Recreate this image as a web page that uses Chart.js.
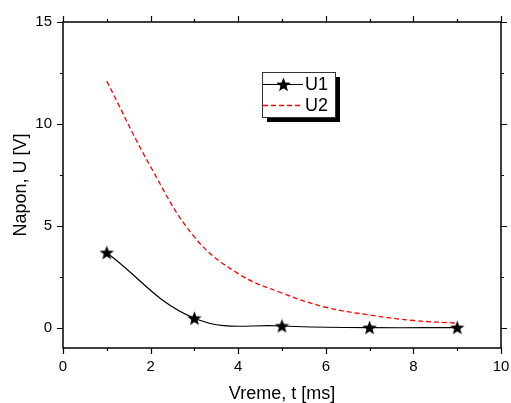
<!DOCTYPE html>
<html>
<head>
<meta charset="utf-8">
<script src="https://cdn.jsdelivr.net/npm/chart.js@4/dist/chart.umd.min.js"></script>
<style>
  html, body { margin: 0; padding: 0; background: #fff; }
  #wrap { width: 511px; height: 403px; }
</style>
</head>
<body>
<div id="wrap"><canvas id="c" width="511" height="403"></canvas></div>
<script>
// Measured samples: time [ms] and voltage [V]
const u1Time = [1, 3, 5, 7, 9];
const u1Values = [3.68, 0.46, 0.08, 0.0, 0.0];
const u2Time = [1, 2, 3, 4, 5, 6, 7, 8, 9];
const u2Values = [12.1, 7.9, 4.45, 2.65, 1.7, 1.0, 0.62, 0.35, 0.22];
const xTickValues = [0, 2, 4, 6, 8, 10];
const yTickValues = [0, 5, 10, 15];
const seriesNames = ['U1', 'U2'];

const FONT = 'Arial, "Liberation Sans", sans-serif';

// filled five-point star used as the U1 marker
function makeStar(size) {
  const c = document.createElement('canvas');
  c.width = size; c.height = size;
  const g = c.getContext('2d');
  const cx = size / 2, cy = size / 2 + 0.6;
  const ro = size / 2, ri = ro * 0.43;
  g.beginPath();
  for (let i = 0; i < 10; i++) {
    const r = i % 2 === 0 ? ro : ri;
    const ang = -Math.PI / 2 + i * Math.PI / 5;
    const px = cx + r * Math.cos(ang), py = cy + r * Math.sin(ang);
    if (i === 0) g.moveTo(px, py); else g.lineTo(px, py);
  }
  g.closePath();
  g.fillStyle = '#000';
  g.fill();
  return c;
}
const star = makeStar(15);

const toPoints = (xs, ys) => xs.map((x, i) => ({ x, y: ys[i] }));

// box frame with ticks on all four sides
const framePlugin = {
  id: 'frame',
  afterDraw(chart) {
    const { ctx, chartArea: a, scales: { x, y } } = chart;
    ctx.save();
    ctx.strokeStyle = '#000';
    ctx.lineWidth = 1.5;
    ctx.strokeRect(a.left, a.top, a.right - a.left, a.bottom - a.top);
    ctx.lineWidth = 1.2;
    ctx.beginPath();
    for (let v = x.min; v <= x.max; v += 1) {
      const px = Math.round(x.getPixelForValue(v)) + 0.5;
      const len = v % 2 === 0 ? 6 : 3;
      ctx.moveTo(px, a.bottom); ctx.lineTo(px, a.bottom + len);
      ctx.moveTo(px, a.top); ctx.lineTo(px, a.top - len);
    }
    for (let v = 0; v <= y.max; v += 2.5) {
      const py = Math.round(y.getPixelForValue(v)) + 0.5;
      const len = v % 5 === 0 ? 6 : 3;
      ctx.moveTo(a.left, py); ctx.lineTo(a.left - len, py);
      ctx.moveTo(a.right, py); ctx.lineTo(a.right + len, py);
    }
    ctx.stroke();
    ctx.restore();
  }
};

// legend box with drop shadow
const legendPlugin = {
  id: 'shadowLegend',
  afterDraw(chart) {
    const { ctx } = chart;
    const bx = 262, by = 72, bw = 73, bh = 45, sh = 5;
    ctx.save();
    ctx.fillStyle = '#000';
    ctx.fillRect(bx + sh, by + sh, bw, bh);
    ctx.fillStyle = '#fff';
    ctx.fillRect(bx, by, bw, bh);
    ctx.strokeStyle = '#333';
    ctx.lineWidth = 1;
    ctx.strokeRect(bx + 0.5, by + 0.5, bw, bh);
    const ds = chart.data.datasets;
    const rows = [by + 12.5, by + 33.5];
    ds.forEach((d, i) => {
      const ry = rows[i];
      ctx.strokeStyle = d.borderColor;
      ctx.lineWidth = d.borderWidth;
      ctx.setLineDash(d.borderDash || []);
      ctx.beginPath();
      ctx.moveTo(bx + 1, ry); ctx.lineTo(bx + 41, ry);
      ctx.stroke();
      ctx.setLineDash([]);
      if (d.pointStyle instanceof HTMLCanvasElement) {
        const h = d.pointStyle.width / 2;
        ctx.drawImage(d.pointStyle, Math.round(bx + 21 - h), Math.round(ry - h));
      }
      ctx.fillStyle = '#000';
      ctx.font = '18px ' + FONT;
      ctx.textBaseline = 'middle';
      ctx.textAlign = 'left';
      ctx.fillText(d.label, bx + 43, ry + 1);
    });
    ctx.restore();
  }
};

new Chart(document.getElementById('c'), {
  type: 'line',
  data: {
    datasets: [
      {
        label: seriesNames[0],
        data: toPoints(u1Time, u1Values),
        borderColor: '#000',
        borderWidth: 1.2,
        pointStyle: star,
        pointRadius: 7,
        tension: 0.4,
        fill: false
      },
      {
        label: seriesNames[1],
        data: toPoints(u2Time, u2Values),
        borderColor: '#ff0000',
        borderWidth: 1.3,
        borderDash: [5, 3],
        pointRadius: 0,
        tension: 0.4,
        fill: false
      }
    ]
  },
  options: {
    responsive: false,
    animation: false,
    events: [],
    layout: { padding: { top: 22, right: 10, left: 0, bottom: 0 } },
    plugins: { legend: { display: false }, tooltip: { enabled: false } },
    scales: {
      x: {
        type: 'linear',
        min: 0, max: 10,
        afterBuildTicks: s => { s.ticks = xTickValues.map(v => ({ value: v })); },
        afterFit: s => { s.height = 55; },
        grid: { display: false, drawTicks: true, tickLength: 9 },
        border: { display: false },
        ticks: { color: '#000', font: { family: FONT, size: 15 }, padding: 1, maxRotation: 0 },
        title: { display: true, text: 'Vreme, t [ms]', color: '#000', font: { family: FONT, size: 18 }, padding: { top: 0, bottom: -2 } }
      },
      y: {
        type: 'linear',
        min: -1, max: 15,
        afterBuildTicks: s => { s.ticks = yTickValues.map(v => ({ value: v })); },
        afterFit: s => { s.width = 63; },
        grid: { display: false, drawTicks: true, tickLength: 6 },
        border: { display: false },
        ticks: { color: '#000', font: { family: FONT, size: 15 }, padding: 5 },
        title: { display: true, text: 'Napon, U [V]', color: '#000', font: { family: FONT, size: 18 }, padding: { top: 10, bottom: 0 } }
      }
    }
  },
  plugins: [framePlugin, legendPlugin]
});
</script>
</body>
</html>
